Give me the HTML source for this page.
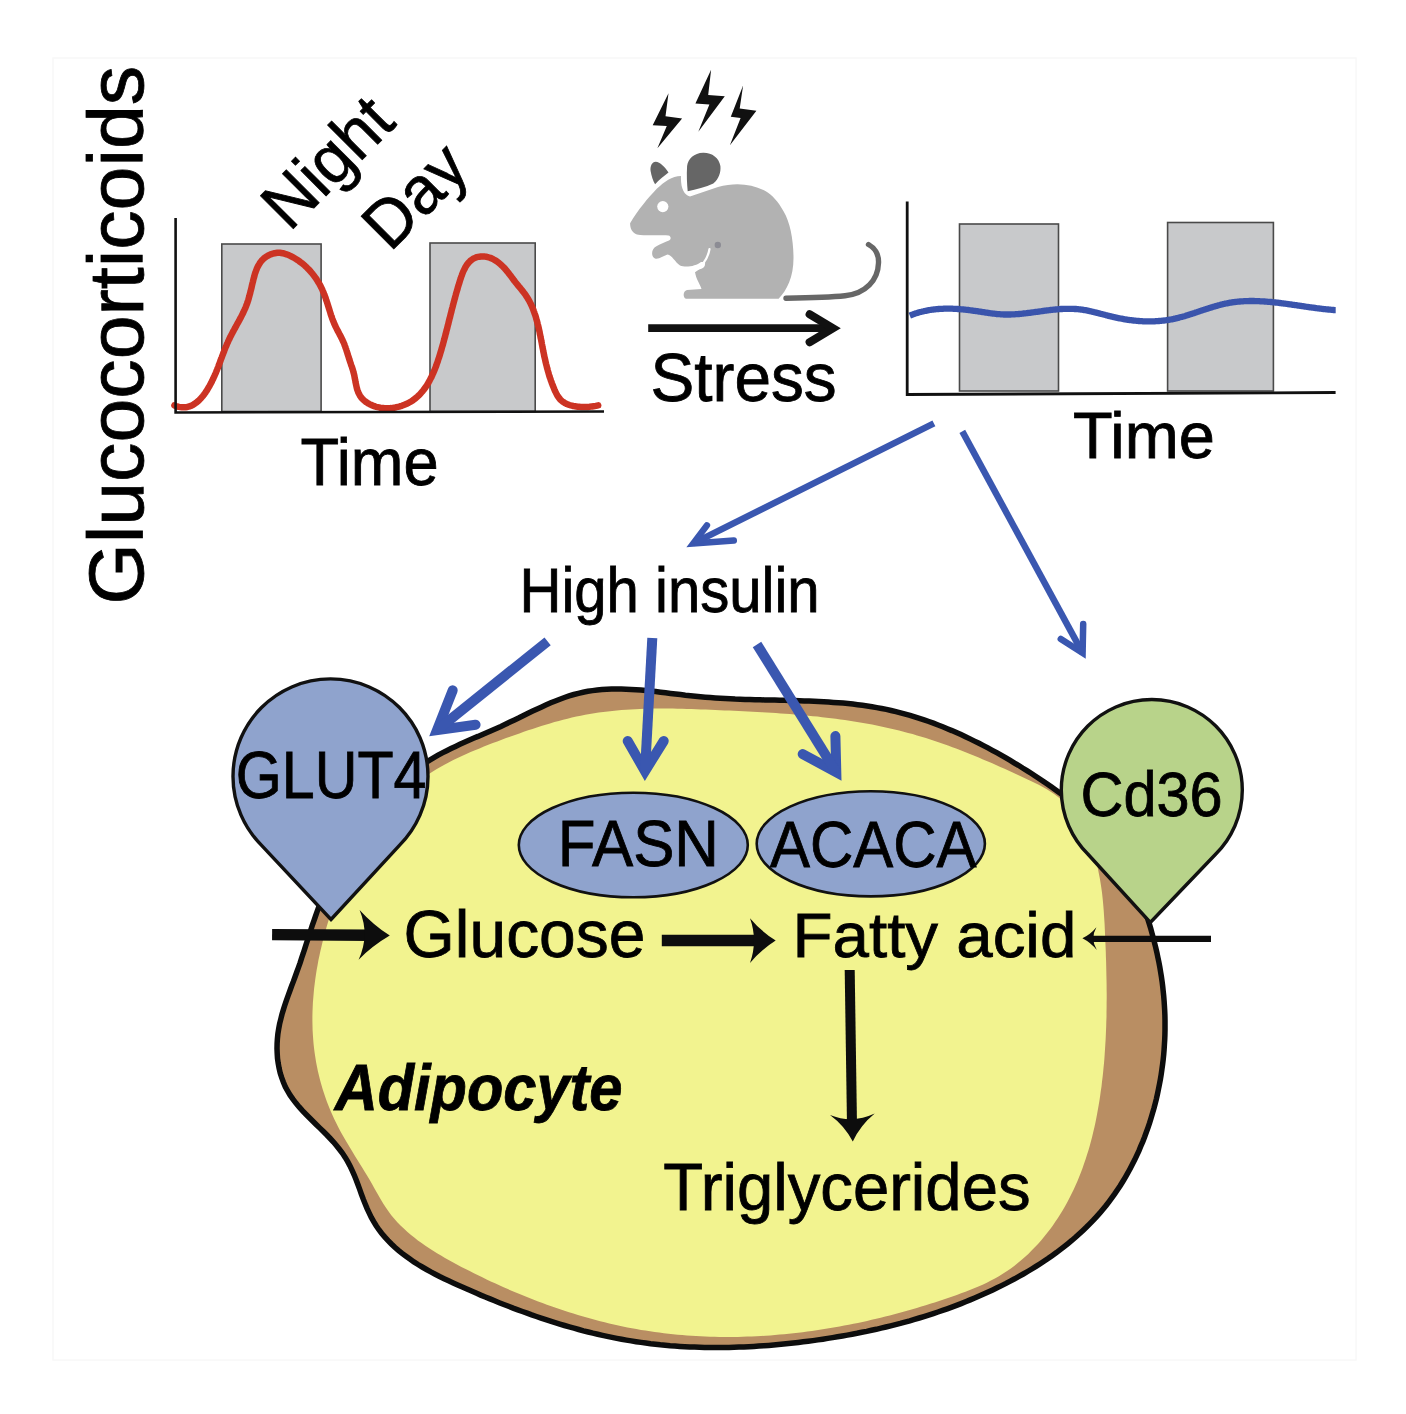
<!DOCTYPE html>
<html><head><meta charset="utf-8"><style>
html,body{margin:0;padding:0;background:#fff;}
svg{display:block;}
</style></head><body>
<svg width="1406" height="1414" viewBox="0 0 1406 1414">
<rect x="53" y="58" width="1303" height="1302" fill="none" stroke="#f8f8f8" stroke-width="1.5"/>
<rect x="221.8" y="244" width="99.3" height="167.5" fill="#c8c9cb" stroke="#4a4a4a" stroke-width="1.6"/>
<rect x="430" y="243" width="105.2" height="168.5" fill="#c8c9cb" stroke="#4a4a4a" stroke-width="1.6"/>
<path d="M174.4,405.4 L175.9,406.0 L177.4,406.5 L178.9,406.9 L180.3,407.1 L181.8,407.3 L183.1,407.3 L184.5,407.3 L185.8,407.2 L187.1,407.0 L188.3,406.7 L189.5,406.3 L190.7,405.9 L191.9,405.4 L193.0,404.8 L194.1,404.2 L195.2,403.4 L196.2,402.7 L197.2,401.9 L198.2,401.0 L199.2,400.1 L200.1,399.1 L201.1,398.2 L201.9,397.1 L202.8,396.1 L203.7,395.0 L204.5,393.9 L205.3,392.8 L206.0,391.6 L206.8,390.5 L207.5,389.3 L208.2,388.1 L208.9,386.9 L209.6,385.8 L210.2,384.6 L210.9,383.4 L211.5,382.2 L212.1,381.0 L212.7,379.7 L213.3,378.5 L213.8,377.3 L214.4,376.1 L214.9,374.8 L215.5,373.6 L216.0,372.4 L216.5,371.1 L217.0,369.9 L217.5,368.6 L218.0,367.4 L218.5,366.1 L218.9,364.9 L219.4,363.6 L219.9,362.3 L220.4,361.1 L220.8,359.8 L221.3,358.6 L221.8,357.3 L222.2,356.1 L222.7,354.8 L223.2,353.5 L223.7,352.3 L224.2,351.0 L224.6,349.8 L225.1,348.5 L225.6,347.3 L226.2,346.1 L226.7,344.8 L227.2,343.6 L227.8,342.4 L228.3,341.1 L228.9,339.9 L229.5,338.7 L230.0,337.5 L230.6,336.3 L231.3,335.1 L231.9,333.9 L232.5,332.7 L233.1,331.5 L233.8,330.3 L234.4,329.2 L235.1,328.0 L235.7,326.8 L236.4,325.6 L237.0,324.4 L237.7,323.2 L238.3,322.1 L239.0,320.9 L239.6,319.7 L240.2,318.5 L240.9,317.3 L241.5,316.1 L242.1,314.9 L242.7,313.7 L243.3,312.5 L243.8,311.3 L244.4,310.1 L244.9,308.9 L245.5,307.7 L246.0,306.4 L246.4,305.2 L246.9,304.0 L247.4,302.7 L247.8,301.4 L248.2,300.2 L248.6,298.9 L248.9,297.6 L249.3,296.3 L249.6,295.0 L250.0,293.7 L250.3,292.4 L250.6,291.1 L251.0,289.8 L251.3,288.5 L251.6,287.2 L251.9,285.8 L252.2,284.5 L252.5,283.2 L252.9,281.8 L253.2,280.5 L253.5,279.1 L253.9,277.8 L254.3,276.4 L254.6,275.1 L255.0,273.7 L255.5,272.4 L255.9,271.1 L256.4,269.8 L256.9,268.5 L257.5,267.2 L258.1,266.0 L258.8,264.8 L259.5,263.7 L260.2,262.5 L261.0,261.5 L261.9,260.4 L262.8,259.5 L263.8,258.5 L264.9,257.7 L266.0,256.9 L267.1,256.1 L268.3,255.5 L269.5,254.9 L270.8,254.3 L272.1,253.9 L273.4,253.5 L274.7,253.2 L276.0,253.0 L277.4,252.8 L278.7,252.8 L280.0,252.8 L281.3,253.0 L282.7,253.2 L284.0,253.5 L285.2,253.9 L286.5,254.3 L287.8,254.8 L289.1,255.3 L290.3,255.9 L291.5,256.5 L292.7,257.1 L293.9,257.8 L295.1,258.5 L296.3,259.2 L297.4,259.9 L298.5,260.7 L299.6,261.5 L300.7,262.3 L301.8,263.1 L302.9,264.0 L303.9,264.8 L304.9,265.7 L305.9,266.7 L306.9,267.6 L307.8,268.6 L308.8,269.5 L309.7,270.5 L310.6,271.5 L311.5,272.6 L312.4,273.6 L313.2,274.7 L314.0,275.7 L314.8,276.8 L315.6,277.9 L316.4,279.0 L317.1,280.2 L317.8,281.3 L318.5,282.5 L319.2,283.6 L319.9,284.8 L320.5,286.0 L321.1,287.2 L321.7,288.4 L322.3,289.6 L322.8,290.9 L323.3,292.1 L323.8,293.3 L324.3,294.6 L324.8,295.8 L325.3,297.1 L325.7,298.3 L326.1,299.6 L326.5,300.9 L327.0,302.2 L327.4,303.4 L327.8,304.7 L328.2,306.0 L328.6,307.3 L329.0,308.6 L329.4,309.8 L329.8,311.1 L330.2,312.4 L330.6,313.7 L331.0,315.0 L331.4,316.2 L331.9,317.5 L332.3,318.8 L332.8,320.0 L333.3,321.3 L333.8,322.5 L334.3,323.8 L334.9,325.0 L335.4,326.2 L336.0,327.4 L336.6,328.6 L337.2,329.8 L337.8,331.0 L338.5,332.2 L339.1,333.4 L339.7,334.6 L340.4,335.8 L341.0,337.0 L341.6,338.2 L342.2,339.5 L342.8,340.7 L343.3,341.9 L343.9,343.1 L344.4,344.4 L344.8,345.6 L345.3,346.9 L345.7,348.1 L346.2,349.4 L346.6,350.7 L347.0,351.9 L347.4,353.2 L347.8,354.5 L348.2,355.8 L348.6,357.0 L349.0,358.3 L349.4,359.6 L349.8,360.8 L350.2,362.1 L350.7,363.4 L351.1,364.7 L351.5,365.9 L352.0,367.2 L352.4,368.5 L352.8,369.8 L353.2,371.1 L353.5,372.4 L353.9,373.8 L354.2,375.1 L354.5,376.5 L354.7,377.9 L355.0,379.3 L355.3,380.6 L355.5,382.0 L355.8,383.4 L356.1,384.7 L356.4,386.1 L356.7,387.4 L357.0,388.7 L357.4,390.0 L357.9,391.2 L358.3,392.5 L358.9,393.6 L359.5,394.8 L360.1,395.9 L360.8,396.9 L361.6,398.0 L362.5,398.9 L363.4,399.8 L364.4,400.7 L365.4,401.5 L366.5,402.3 L367.6,403.0 L368.7,403.7 L369.9,404.3 L371.1,404.9 L372.4,405.4 L373.6,405.9 L374.9,406.4 L376.3,406.8 L377.6,407.1 L378.9,407.4 L380.3,407.7 L381.6,407.9 L383.0,408.0 L384.4,408.2 L385.7,408.2 L387.1,408.3 L388.5,408.2 L389.8,408.2 L391.2,408.1 L392.6,407.9 L393.9,407.7 L395.3,407.5 L396.6,407.2 L397.9,406.9 L399.2,406.6 L400.5,406.2 L401.8,405.8 L403.1,405.3 L404.4,404.8 L405.6,404.3 L406.8,403.8 L408.0,403.2 L409.2,402.5 L410.3,401.9 L411.5,401.2 L412.6,400.5 L413.7,399.7 L414.7,398.9 L415.7,398.1 L416.7,397.3 L417.7,396.4 L418.6,395.5 L419.6,394.6 L420.5,393.6 L421.3,392.7 L422.2,391.7 L423.0,390.7 L423.8,389.6 L424.6,388.6 L425.4,387.5 L426.1,386.4 L426.9,385.3 L427.6,384.1 L428.3,383.0 L428.9,381.8 L429.6,380.6 L430.2,379.4 L430.8,378.2 L431.5,377.0 L432.0,375.7 L432.6,374.5 L433.2,373.2 L433.7,372.0 L434.3,370.7 L434.8,369.4 L435.3,368.1 L435.8,366.8 L436.3,365.5 L436.7,364.2 L437.2,362.9 L437.7,361.6 L438.1,360.2 L438.5,358.9 L439.0,357.6 L439.4,356.3 L439.8,355.0 L440.2,353.6 L440.6,352.3 L441.0,351.0 L441.4,349.7 L441.7,348.4 L442.1,347.1 L442.5,345.8 L442.9,344.5 L443.2,343.2 L443.6,341.9 L443.9,340.6 L444.3,339.3 L444.6,338.0 L445.0,336.7 L445.3,335.4 L445.6,334.1 L446.0,332.9 L446.3,331.6 L446.6,330.3 L447.0,329.0 L447.3,327.7 L447.6,326.5 L447.9,325.2 L448.3,323.9 L448.6,322.6 L448.9,321.3 L449.2,320.1 L449.5,318.8 L449.9,317.5 L450.2,316.2 L450.5,315.0 L450.8,313.7 L451.2,312.4 L451.5,311.1 L451.8,309.8 L452.1,308.5 L452.5,307.3 L452.8,306.0 L453.1,304.7 L453.5,303.4 L453.8,302.1 L454.2,300.8 L454.5,299.5 L454.9,298.2 L455.2,296.9 L455.6,295.6 L455.9,294.3 L456.3,292.9 L456.7,291.6 L457.1,290.3 L457.5,289.0 L457.8,287.7 L458.2,286.3 L458.6,285.0 L459.1,283.6 L459.5,282.3 L459.9,280.9 L460.3,279.6 L460.8,278.2 L461.2,276.9 L461.7,275.6 L462.2,274.2 L462.7,272.9 L463.2,271.6 L463.8,270.4 L464.4,269.2 L465.0,268.0 L465.6,266.8 L466.3,265.7 L467.0,264.6 L467.8,263.6 L468.6,262.6 L469.5,261.7 L470.3,260.9 L471.3,260.1 L472.3,259.4 L473.3,258.7 L474.5,258.1 L475.6,257.6 L476.8,257.2 L478.1,256.9 L479.5,256.7 L480.8,256.5 L482.2,256.5 L483.6,256.5 L485.0,256.6 L486.3,256.8 L487.7,257.1 L489.0,257.5 L490.3,257.9 L491.6,258.4 L492.9,259.0 L494.1,259.7 L495.3,260.4 L496.5,261.1 L497.6,261.9 L498.7,262.8 L499.8,263.7 L500.8,264.6 L501.8,265.5 L502.8,266.5 L503.7,267.4 L504.7,268.4 L505.5,269.4 L506.4,270.5 L507.3,271.5 L508.1,272.5 L508.9,273.6 L509.8,274.7 L510.6,275.8 L511.4,276.8 L512.2,277.9 L513.0,279.0 L513.8,280.1 L514.6,281.1 L515.4,282.2 L516.3,283.3 L517.1,284.3 L518.0,285.4 L518.8,286.4 L519.7,287.4 L520.6,288.5 L521.4,289.5 L522.3,290.6 L523.1,291.6 L523.9,292.7 L524.7,293.7 L525.5,294.8 L526.2,295.9 L526.9,297.0 L527.6,298.1 L528.3,299.3 L529.0,300.4 L529.6,301.6 L530.2,302.8 L530.8,303.9 L531.3,305.1 L531.9,306.3 L532.4,307.6 L532.9,308.8 L533.4,310.0 L533.8,311.3 L534.3,312.5 L534.7,313.8 L535.2,315.0 L535.6,316.3 L536.0,317.6 L536.3,318.9 L536.7,320.2 L537.1,321.5 L537.4,322.8 L537.7,324.1 L538.1,325.4 L538.4,326.7 L538.7,328.0 L539.0,329.4 L539.3,330.7 L539.6,332.0 L539.8,333.4 L540.1,334.7 L540.4,336.1 L540.6,337.4 L540.9,338.7 L541.2,340.1 L541.4,341.4 L541.7,342.8 L541.9,344.1 L542.2,345.5 L542.4,346.8 L542.7,348.2 L543.0,349.5 L543.2,350.8 L543.5,352.2 L543.8,353.5 L544.0,354.8 L544.3,356.2 L544.6,357.5 L544.9,358.8 L545.2,360.1 L545.5,361.5 L545.8,362.8 L546.1,364.1 L546.5,365.4 L546.8,366.7 L547.1,368.0 L547.5,369.3 L547.8,370.6 L548.2,371.9 L548.6,373.2 L548.9,374.4 L549.3,375.7 L549.7,377.0 L550.2,378.3 L550.6,379.5 L551.0,380.8 L551.5,382.0 L551.9,383.3 L552.4,384.5 L552.9,385.8 L553.4,387.0 L553.9,388.2 L554.4,389.5 L554.9,390.7 L555.5,391.9 L556.1,393.1 L556.7,394.3 L557.3,395.4 L558.0,396.5 L558.8,397.6 L559.6,398.6 L560.4,399.6 L561.3,400.5 L562.3,401.3 L563.4,402.1 L564.5,402.8 L565.6,403.4 L566.8,404.0 L568.1,404.5 L569.4,405.0 L570.8,405.4 L572.1,405.7 L573.5,406.1 L574.9,406.3 L576.4,406.5 L577.8,406.7 L579.3,406.8 L580.8,406.9 L582.3,407.0 L583.7,407.0 L585.2,407.0 L586.6,406.9 L588.0,406.9 L589.4,406.8 L590.8,406.6 L592.2,406.5 L593.5,406.3 L594.7,406.1 L595.9,405.9 L597.1,405.6 L598.2,405.4" fill="none" stroke="#cc3323" stroke-width="6.5" stroke-linecap="round" stroke-linejoin="round"/>
<path d="M175.6,217.9 L175.6,412.5 L604,411.5" fill="none" stroke="#111" stroke-width="2.6"/>
<rect x="959.5" y="224" width="99" height="167" fill="#c8c9cb" stroke="#4a4a4a" stroke-width="1.6"/>
<rect x="1167.6" y="222.5" width="105.8" height="168.5" fill="#c8c9cb" stroke="#4a4a4a" stroke-width="1.6"/>
<path d="M909.8,315.6 L910.8,315.2 L911.9,314.8 L912.9,314.4 L914.0,314.0 L915.1,313.6 L916.1,313.3 L917.2,313.0 L918.2,312.6 L919.3,312.3 L920.4,312.0 L921.4,311.8 L922.5,311.5 L923.5,311.3 L924.6,311.0 L925.7,310.8 L926.7,310.6 L927.8,310.4 L928.9,310.2 L929.9,310.0 L931.0,309.8 L932.1,309.7 L933.1,309.6 L934.2,309.4 L935.3,309.3 L936.3,309.2 L937.4,309.1 L938.5,309.0 L939.6,308.9 L940.6,308.9 L941.7,308.8 L942.8,308.8 L943.8,308.7 L944.9,308.7 L946.0,308.7 L947.1,308.7 L948.1,308.7 L949.2,308.7 L950.3,308.7 L951.4,308.7 L952.4,308.7 L953.5,308.8 L954.6,308.8 L955.7,308.9 L956.7,308.9 L957.8,309.0 L958.9,309.1 L960.0,309.2 L961.0,309.3 L962.1,309.3 L963.2,309.4 L964.3,309.6 L965.3,309.7 L966.4,309.8 L967.5,309.9 L968.6,310.0 L969.6,310.2 L970.7,310.3 L971.8,310.5 L972.9,310.6 L973.9,310.8 L975.0,310.9 L976.1,311.1 L977.2,311.2 L978.2,311.4 L979.3,311.6 L980.4,311.7 L981.4,311.9 L982.5,312.1 L983.6,312.2 L984.7,312.4 L985.7,312.6 L986.8,312.7 L987.9,312.9 L988.9,313.0 L990.0,313.2 L991.1,313.3 L992.2,313.5 L993.2,313.6 L994.3,313.7 L995.4,313.8 L996.4,314.0 L997.5,314.1 L998.6,314.1 L999.7,314.2 L1000.7,314.3 L1001.8,314.4 L1002.9,314.4 L1003.9,314.5 L1005.0,314.5 L1006.1,314.5 L1007.2,314.5 L1008.2,314.5 L1009.3,314.5 L1010.4,314.5 L1011.5,314.4 L1012.5,314.4 L1013.6,314.3 L1014.7,314.3 L1015.8,314.2 L1016.8,314.1 L1017.9,314.1 L1019.0,314.0 L1020.1,313.9 L1021.1,313.8 L1022.2,313.7 L1023.3,313.5 L1024.4,313.4 L1025.4,313.3 L1026.5,313.2 L1027.6,313.0 L1028.7,312.9 L1029.8,312.8 L1030.8,312.6 L1031.9,312.5 L1033.0,312.3 L1034.1,312.2 L1035.1,312.0 L1036.2,311.9 L1037.3,311.8 L1038.4,311.6 L1039.4,311.5 L1040.5,311.3 L1041.6,311.2 L1042.7,311.0 L1043.7,310.9 L1044.8,310.7 L1045.9,310.6 L1047.0,310.4 L1048.0,310.3 L1049.1,310.2 L1050.2,310.0 L1051.3,309.9 L1052.3,309.8 L1053.4,309.7 L1054.5,309.6 L1055.6,309.5 L1056.6,309.4 L1057.7,309.3 L1058.8,309.2 L1059.9,309.1 L1060.9,309.0 L1062.0,309.0 L1063.1,308.9 L1064.1,308.9 L1065.2,308.8 L1066.3,308.8 L1067.4,308.8 L1068.4,308.8 L1069.5,308.8 L1070.6,308.8 L1071.6,308.8 L1072.7,308.9 L1073.8,308.9 L1074.8,309.0 L1075.9,309.0 L1077.0,309.1 L1078.0,309.2 L1079.1,309.3 L1080.2,309.4 L1081.2,309.6 L1082.3,309.7 L1083.3,309.9 L1084.4,310.1 L1085.5,310.2 L1086.5,310.4 L1087.6,310.6 L1088.6,310.9 L1089.7,311.1 L1090.8,311.3 L1091.8,311.6 L1092.9,311.8 L1093.9,312.1 L1095.0,312.3 L1096.1,312.6 L1097.1,312.9 L1098.2,313.1 L1099.2,313.4 L1100.3,313.7 L1101.4,314.0 L1102.4,314.2 L1103.5,314.5 L1104.6,314.8 L1105.6,315.1 L1106.7,315.3 L1107.7,315.6 L1108.8,315.9 L1109.9,316.2 L1110.9,316.4 L1112.0,316.7 L1113.1,316.9 L1114.1,317.2 L1115.2,317.4 L1116.3,317.7 L1117.3,317.9 L1118.4,318.1 L1119.5,318.3 L1120.5,318.5 L1121.6,318.7 L1122.7,318.9 L1123.7,319.1 L1124.8,319.3 L1125.9,319.5 L1126.9,319.6 L1128.0,319.8 L1129.1,320.0 L1130.2,320.1 L1131.2,320.2 L1132.3,320.4 L1133.4,320.5 L1134.4,320.6 L1135.5,320.7 L1136.6,320.8 L1137.7,320.9 L1138.7,321.0 L1139.8,321.1 L1140.9,321.2 L1141.9,321.2 L1143.0,321.3 L1144.1,321.3 L1145.2,321.4 L1146.2,321.4 L1147.3,321.4 L1148.4,321.4 L1149.4,321.4 L1150.5,321.4 L1151.6,321.4 L1152.6,321.4 L1153.7,321.3 L1154.8,321.3 L1155.8,321.2 L1156.9,321.2 L1158.0,321.1 L1159.0,321.0 L1160.1,320.9 L1161.2,320.8 L1162.2,320.7 L1163.3,320.6 L1164.3,320.5 L1165.4,320.3 L1166.4,320.2 L1167.5,320.0 L1168.6,319.9 L1169.6,319.7 L1170.7,319.5 L1171.7,319.3 L1172.8,319.1 L1173.8,318.9 L1174.9,318.6 L1175.9,318.4 L1177.0,318.1 L1178.0,317.9 L1179.1,317.6 L1180.1,317.3 L1181.2,317.0 L1182.2,316.8 L1183.2,316.5 L1184.3,316.2 L1185.3,315.9 L1186.4,315.5 L1187.4,315.2 L1188.5,314.9 L1189.5,314.6 L1190.5,314.2 L1191.6,313.9 L1192.6,313.6 L1193.7,313.2 L1194.7,312.9 L1195.7,312.5 L1196.8,312.2 L1197.8,311.8 L1198.8,311.5 L1199.9,311.1 L1200.9,310.8 L1202.0,310.4 L1203.0,310.1 L1204.0,309.8 L1205.1,309.4 L1206.1,309.1 L1207.2,308.7 L1208.2,308.4 L1209.2,308.1 L1210.3,307.7 L1211.3,307.4 L1212.4,307.1 L1213.4,306.8 L1214.5,306.5 L1215.5,306.1 L1216.5,305.9 L1217.6,305.6 L1218.6,305.3 L1219.7,305.0 L1220.7,304.7 L1221.8,304.5 L1222.8,304.2 L1223.9,304.0 L1224.9,303.7 L1226.0,303.5 L1227.1,303.3 L1228.1,303.1 L1229.2,302.9 L1230.2,302.7 L1231.3,302.5 L1232.4,302.4 L1233.4,302.2 L1234.5,302.1 L1235.5,301.9 L1236.6,301.8 L1237.7,301.7 L1238.7,301.6 L1239.8,301.5 L1240.9,301.4 L1242.0,301.4 L1243.0,301.3 L1244.1,301.2 L1245.2,301.2 L1246.2,301.1 L1247.3,301.1 L1248.4,301.1 L1249.5,301.0 L1250.6,301.0 L1251.6,301.0 L1252.7,301.0 L1253.8,301.0 L1254.9,301.1 L1255.9,301.1 L1257.0,301.1 L1258.1,301.2 L1259.2,301.2 L1260.3,301.3 L1261.4,301.3 L1262.4,301.4 L1263.5,301.4 L1264.6,301.5 L1265.7,301.6 L1266.8,301.7 L1267.9,301.8 L1269.0,301.8 L1270.0,301.9 L1271.1,302.0 L1272.2,302.1 L1273.3,302.3 L1274.4,302.4 L1275.5,302.5 L1276.6,302.6 L1277.6,302.7 L1278.7,302.9 L1279.8,303.0 L1280.9,303.1 L1282.0,303.3 L1283.1,303.4 L1284.2,303.6 L1285.3,303.7 L1286.3,303.8 L1287.4,304.0 L1288.5,304.1 L1289.6,304.3 L1290.7,304.4 L1291.8,304.6 L1292.9,304.8 L1293.9,304.9 L1295.0,305.1 L1296.1,305.2 L1297.2,305.4 L1298.3,305.6 L1299.3,305.7 L1300.4,305.9 L1301.5,306.0 L1302.6,306.2 L1303.7,306.4 L1304.8,306.5 L1305.8,306.7 L1306.9,306.8 L1308.0,307.0 L1309.1,307.1 L1310.1,307.3 L1311.2,307.4 L1312.3,307.6 L1313.4,307.7 L1314.4,307.9 L1315.5,308.0 L1316.6,308.2 L1317.6,308.3 L1318.7,308.4 L1319.8,308.6 L1320.8,308.7 L1321.9,308.8 L1323.0,309.0 L1324.0,309.1 L1325.1,309.2 L1326.2,309.3 L1327.2,309.4 L1328.3,309.5 L1329.3,309.6 L1330.4,309.7 L1331.4,309.8 L1332.5,309.9 L1333.6,310.0 L1334.6,310.1 L1335.7,310.1" fill="none" stroke="#3a54ac" stroke-width="6.3" stroke-linecap="butt" stroke-linejoin="round"/>
<path d="M907.2,201.5 L907.2,394.5 L1335.6,392.5" fill="none" stroke="#111" stroke-width="2.8"/>
<g fill="#b2b2b2">
<path d="M630.1,223.2 C630,228 632,233 637,234.5 C645,236 660,235 668.5,235.4 C671,236 671.5,239 669,240.5 C665,242 660,244 656,246.5 C651,249 651,257 655,258.5 C659,259.5 663,256 667.5,254.5 C672,255 675,262 680,265.5 C686,268 696,266 701,262 L705,262 C706,270 699,268 695,272 C696,279 700,284 701.5,289 L687,290 C683,291 682.5,297 686,298.8 L778.6,298.8 C787,290 793.5,277 793.5,258 C793.5,240 790,222 783.8,211.7 C778,201 772,195 765.8,191.2 C752,184 736,182 718,187 L690,196.5 C684,195 680.5,188 681,176 C672,176 664,182 657,188.6 C648,198 638,210 630.1,223.2 Z"/>
</g>
<path d="M709.5,249 C708,258 702,266 695.5,270.5" fill="none" stroke="#fff" stroke-width="2.2" stroke-linecap="round"/>
<circle cx="662.8" cy="206.6" r="5.6" fill="#fff"/>
<circle cx="717.8" cy="245" r="3.2" fill="#8c8c94"/>
<path d="M655.7,161.8 C652,162 650,166 650.6,171 C651.5,176 653,181 655.1,184.2 C659,180 664,176 668.5,172.6 C665,167 660,162 655.7,161.8 Z" fill="#666"/>
<path d="M703.1,152.8 C694,153 688,159 687.1,166 C686.5,175 687,184 687.7,191.2 C696,189.5 706,187 713.3,183.5 C719,179 721,172 720.4,166 C719,158 712,152.6 703.1,152.8 Z" fill="#666"/>
<path d="M786,298.2 C810,297.8 830,297.3 845,295.8 C866,293.5 878,280 878.5,263 C879,254 874,247.5 868.5,244.5" fill="none" stroke="#676767" stroke-width="5.4" stroke-linecap="round"/>
<path d="M668.5,93.3 L665.5,116.3 L682.1,118.5 L657.4,148.3 L666.8,126.1 L652.7,125.3 Z" fill="#111"/>
<path d="M711.1,69.8 L708.2,95.0 L724.8,96.3 L698.3,131.7 L709.4,104.4 L695.4,103.5 Z" fill="#111"/>
<path d="M743.1,85.6 L739.7,108.6 L756.4,110.8 L729.9,145.3 L740.6,118.0 L730.8,116.8 Z" fill="#111"/>
<line x1="648.2" y1="328.2" x2="830.0" y2="328.2" stroke="#111" stroke-width="7.7"/>
<path d="M809.6,314.3 L833.0,328.3 L809.6,342.2" fill="none" stroke="#111" stroke-width="8" stroke-linecap="round" stroke-linejoin="miter" stroke-miterlimit="10"/>
<path d="M429.7,760.1 L433.9,757.6 L438.1,755.2 L442.3,752.9 L446.7,750.7 L451.0,748.5 L455.5,746.4 L459.9,744.3 L464.4,742.3 L468.9,740.3 L473.4,738.3 L478.0,736.4 L482.5,734.4 L487.1,732.4 L491.7,730.4 L496.3,728.4 L500.9,726.4 L505.4,724.3 L510.0,722.1 L514.5,720.0 L519.1,717.8 L523.6,715.5 L528.1,713.3 L532.7,711.1 L537.2,709.0 L541.7,706.9 L546.3,704.8 L550.8,702.8 L555.4,701.0 L559.9,699.2 L564.5,697.5 L569.1,695.9 L573.8,694.5 L578.4,693.3 L583.1,692.2 L587.8,691.3 L592.5,690.6 L597.3,690.0 L602.0,689.6 L606.8,689.3 L611.6,689.1 L616.5,689.0 L621.3,689.1 L626.2,689.2 L631.1,689.4 L636.0,689.7 L640.9,690.1 L645.8,690.6 L650.7,691.1 L655.7,691.6 L660.6,692.2 L665.6,692.8 L670.5,693.4 L675.5,694.0 L680.5,694.6 L685.4,695.2 L690.4,695.7 L695.4,696.3 L700.4,696.8 L705.3,697.2 L710.3,697.6 L715.3,698.0 L720.3,698.3 L725.2,698.6 L730.2,698.8 L735.1,699.1 L740.1,699.2 L745.1,699.4 L750.0,699.6 L755.0,699.7 L759.9,699.8 L764.8,699.9 L769.8,700.0 L774.7,700.1 L779.6,700.2 L784.6,700.3 L789.5,700.5 L794.4,700.6 L799.3,700.7 L804.2,700.9 L809.1,701.1 L814.0,701.3 L818.8,701.5 L823.7,701.7 L828.6,702.0 L833.4,702.4 L838.3,702.7 L843.1,703.1 L848.0,703.6 L852.8,704.1 L857.6,704.7 L862.4,705.3 L867.2,706.0 L872.0,706.8 L876.8,707.6 L881.6,708.5 L886.4,709.4 L891.1,710.5 L895.9,711.6 L900.6,712.8 L905.3,714.1 L910.0,715.4 L914.7,716.9 L919.4,718.3 L924.1,719.9 L928.8,721.5 L933.4,723.2 L938.1,725.0 L942.7,726.8 L947.3,728.7 L951.9,730.6 L956.4,732.6 L961.0,734.6 L965.5,736.7 L970.0,738.9 L974.5,741.1 L979.0,743.3 L983.5,745.6 L987.9,747.9 L992.3,750.3 L996.7,752.7 L1001.1,755.2 L1005.5,757.7 L1009.8,760.2 L1014.1,762.8 L1018.4,765.3 L1022.6,768.0 L1026.9,770.6 L1031.1,773.3 L1035.2,776.0 L1039.4,778.7 L1043.5,781.5 L1047.6,784.2 L1051.6,787.0 L1055.7,789.9 L1059.6,792.7 L1063.6,795.7 L1067.4,798.6 L1071.3,801.6 L1075.0,804.7 L1078.7,807.8 L1082.4,811.0 L1085.9,814.3 L1089.4,817.6 L1092.8,821.0 L1096.2,824.5 L1099.4,828.0 L1102.6,831.7 L1105.7,835.4 L1108.7,839.3 L1111.6,843.2 L1114.3,847.2 L1117.1,851.3 L1119.7,855.4 L1122.2,859.7 L1124.6,864.0 L1127.0,868.4 L1129.3,872.8 L1131.5,877.3 L1133.6,881.8 L1135.6,886.4 L1137.6,891.0 L1139.5,895.7 L1141.3,900.3 L1143.0,905.1 L1144.7,909.8 L1146.3,914.5 L1147.9,919.3 L1149.4,924.1 L1150.8,928.8 L1152.1,933.6 L1153.4,938.4 L1154.6,943.2 L1155.8,947.9 L1156.9,952.7 L1157.9,957.5 L1158.9,962.3 L1159.8,967.1 L1160.6,971.9 L1161.4,976.7 L1162.1,981.5 L1162.7,986.4 L1163.2,991.2 L1163.7,996.0 L1164.1,1000.9 L1164.4,1005.7 L1164.7,1010.6 L1164.9,1015.4 L1165.0,1020.3 L1165.0,1025.2 L1165.0,1030.0 L1164.9,1034.9 L1164.7,1039.8 L1164.4,1044.7 L1164.1,1049.7 L1163.7,1054.6 L1163.2,1059.5 L1162.6,1064.4 L1161.9,1069.4 L1161.2,1074.3 L1160.4,1079.2 L1159.5,1084.1 L1158.5,1089.0 L1157.5,1093.9 L1156.4,1098.8 L1155.2,1103.6 L1153.9,1108.5 L1152.5,1113.3 L1151.1,1118.1 L1149.6,1122.9 L1148.0,1127.6 L1146.3,1132.3 L1144.6,1137.0 L1142.8,1141.6 L1140.8,1146.2 L1138.9,1150.8 L1136.8,1155.3 L1134.7,1159.8 L1132.4,1164.3 L1130.1,1168.7 L1127.8,1173.0 L1125.3,1177.3 L1122.8,1181.5 L1120.2,1185.7 L1117.5,1189.8 L1114.7,1193.9 L1111.8,1197.9 L1108.9,1201.8 L1105.9,1205.7 L1102.8,1209.4 L1099.7,1213.2 L1096.4,1216.8 L1093.1,1220.4 L1089.7,1223.9 L1086.3,1227.3 L1082.7,1230.7 L1079.1,1234.0 L1075.5,1237.3 L1071.8,1240.5 L1068.0,1243.6 L1064.2,1246.6 L1060.3,1249.6 L1056.4,1252.6 L1052.4,1255.4 L1048.4,1258.3 L1044.3,1261.0 L1040.2,1263.7 L1036.0,1266.4 L1031.8,1269.0 L1027.6,1271.5 L1023.3,1274.0 L1019.0,1276.4 L1014.7,1278.8 L1010.3,1281.1 L1006.0,1283.4 L1001.6,1285.6 L997.1,1287.8 L992.7,1289.9 L988.2,1292.0 L983.7,1294.1 L979.2,1296.1 L974.7,1298.0 L970.2,1299.9 L965.6,1301.8 L961.1,1303.6 L956.5,1305.4 L951.9,1307.1 L947.2,1308.8 L942.6,1310.4 L938.0,1312.0 L933.3,1313.6 L928.6,1315.1 L923.9,1316.6 L919.2,1318.0 L914.5,1319.4 L909.8,1320.8 L905.0,1322.1 L900.3,1323.4 L895.5,1324.6 L890.7,1325.8 L885.9,1327.0 L881.1,1328.1 L876.3,1329.3 L871.5,1330.3 L866.7,1331.4 L861.8,1332.3 L857.0,1333.3 L852.1,1334.2 L847.3,1335.1 L842.4,1336.0 L837.5,1336.8 L832.6,1337.6 L827.7,1338.4 L822.8,1339.2 L817.9,1339.9 L813.0,1340.6 L808.1,1341.2 L803.2,1341.8 L798.3,1342.4 L793.3,1343.0 L788.4,1343.5 L783.5,1344.0 L778.5,1344.5 L773.6,1345.0 L768.7,1345.4 L763.7,1345.7 L758.8,1346.1 L753.8,1346.4 L748.9,1346.7 L743.9,1346.9 L739.0,1347.1 L734.1,1347.2 L729.1,1347.4 L724.2,1347.5 L719.2,1347.5 L714.3,1347.5 L709.4,1347.5 L704.5,1347.4 L699.5,1347.3 L694.6,1347.1 L689.7,1346.9 L684.8,1346.7 L679.9,1346.4 L675.0,1346.0 L670.1,1345.7 L665.2,1345.2 L660.3,1344.8 L655.5,1344.2 L650.6,1343.7 L645.8,1343.1 L640.9,1342.4 L636.1,1341.7 L631.2,1340.9 L626.4,1340.1 L621.6,1339.3 L616.8,1338.4 L612.0,1337.4 L607.2,1336.4 L602.5,1335.4 L597.7,1334.3 L592.9,1333.2 L588.2,1332.0 L583.4,1330.8 L578.7,1329.5 L574.0,1328.2 L569.3,1326.9 L564.5,1325.5 L559.8,1324.1 L555.1,1322.7 L550.4,1321.2 L545.8,1319.7 L541.1,1318.1 L536.4,1316.5 L531.7,1314.9 L527.1,1313.2 L522.4,1311.5 L517.8,1309.8 L513.1,1308.1 L508.5,1306.3 L503.8,1304.5 L499.2,1302.7 L494.6,1300.8 L490.0,1298.9 L485.3,1297.0 L480.7,1295.1 L476.1,1293.1 L471.5,1291.1 L466.9,1289.1 L462.3,1287.1 L457.7,1285.0 L453.2,1282.9 L448.6,1280.8 L444.1,1278.7 L439.6,1276.5 L435.2,1274.2 L430.8,1271.9 L426.5,1269.5 L422.2,1267.0 L418.0,1264.5 L413.9,1261.9 L409.9,1259.1 L406.0,1256.3 L402.1,1253.4 L398.4,1250.4 L394.8,1247.3 L391.4,1244.0 L388.1,1240.6 L384.9,1237.1 L381.8,1233.5 L378.9,1229.7 L376.2,1225.7 L373.7,1221.6 L371.3,1217.4 L369.1,1212.9 L367.0,1208.4 L365.1,1203.7 L363.2,1199.0 L361.4,1194.2 L359.7,1189.4 L357.9,1184.5 L356.1,1179.8 L354.2,1175.0 L352.1,1170.4 L350.0,1165.9 L347.7,1161.6 L345.2,1157.4 L342.5,1153.3 L339.6,1149.5 L336.6,1145.7 L333.5,1142.0 L330.2,1138.5 L326.9,1135.0 L323.4,1131.5 L319.9,1128.1 L316.4,1124.7 L312.9,1121.2 L309.4,1117.7 L305.9,1114.2 L302.4,1110.6 L299.1,1106.9 L295.9,1103.1 L292.9,1099.2 L290.1,1095.2 L287.6,1091.0 L285.3,1086.7 L283.4,1082.2 L281.7,1077.7 L280.2,1073.0 L279.1,1068.2 L278.2,1063.3 L277.5,1058.4 L277.2,1053.5 L277.0,1048.5 L277.1,1043.6 L277.4,1038.6 L277.9,1033.7 L278.7,1028.8 L279.6,1023.9 L280.8,1019.1 L282.0,1014.3 L283.4,1009.6 L284.9,1004.8 L286.5,1000.1 L288.2,995.4 L289.9,990.7 L291.6,986.0 L293.4,981.4 L295.1,976.7 L296.8,972.0 L298.5,967.4 L300.1,962.8 L301.6,958.1 L303.2,953.5 L304.7,948.8 L306.2,944.2 L307.7,939.6 L309.2,935.0 L310.7,930.3 L312.2,925.7 L313.8,921.1 L315.4,916.5 L317.0,911.9 L318.7,907.3 L320.5,902.7 L322.3,898.1 L324.2,893.6 L326.2,889.0 L328.2,884.5 L330.3,879.9 L332.4,875.4 L334.6,871.0 L336.8,866.5 L339.2,862.1 L341.5,857.7 L344.0,853.3 L346.5,849.0 L349.1,844.7 L351.7,840.5 L354.4,836.3 L357.1,832.1 L360.0,828.0 L362.8,824.0 L365.8,820.0 L368.8,816.0 L371.9,812.1 L375.0,808.3 L378.2,804.5 L381.5,800.8 L384.8,797.2 L388.2,793.7 L391.6,790.2 L395.2,786.8 L398.7,783.5 L402.4,780.2 L406.1,777.1 L409.9,774.0 L413.7,771.1 L417.6,768.2 L421.6,765.4 L425.6,762.7 Z" fill="#b98e63" stroke="#0d0d0d" stroke-width="5.5"/>
<path d="M428.9,774.0 L432.8,771.5 L436.8,769.1 L440.8,766.7 L444.9,764.5 L449.1,762.2 L453.3,760.1 L457.6,758.0 L461.9,756.0 L466.3,754.0 L470.6,752.1 L475.0,750.2 L479.5,748.4 L483.9,746.6 L488.3,744.8 L492.8,743.1 L497.3,741.4 L501.7,739.8 L506.1,738.1 L510.6,736.5 L515.0,734.9 L519.4,733.4 L523.8,731.8 L528.1,730.3 L532.5,728.9 L536.9,727.4 L541.3,726.1 L545.6,724.7 L550.0,723.4 L554.4,722.1 L558.8,720.9 L563.1,719.8 L567.5,718.7 L571.9,717.6 L576.4,716.6 L580.8,715.7 L585.2,714.8 L589.7,714.0 L594.2,713.2 L598.7,712.5 L603.2,711.9 L607.8,711.4 L612.3,710.9 L616.9,710.4 L621.5,710.0 L626.1,709.7 L630.7,709.4 L635.4,709.2 L640.0,709.0 L644.7,708.8 L649.3,708.7 L654.0,708.6 L658.7,708.6 L663.4,708.6 L668.1,708.6 L672.8,708.6 L677.5,708.7 L682.2,708.8 L686.9,708.9 L691.6,709.1 L696.3,709.2 L701.0,709.4 L705.7,709.6 L710.4,709.8 L715.2,710.0 L719.9,710.2 L724.6,710.4 L729.2,710.6 L733.9,710.8 L738.6,711.0 L743.3,711.2 L748.0,711.5 L752.6,711.7 L757.3,712.0 L762.0,712.2 L766.6,712.5 L771.3,712.8 L775.9,713.1 L780.6,713.4 L785.2,713.8 L789.8,714.1 L794.4,714.5 L799.1,714.9 L803.7,715.3 L808.3,715.7 L812.9,716.2 L817.5,716.6 L822.1,717.2 L826.6,717.7 L831.2,718.2 L835.8,718.8 L840.4,719.4 L844.9,720.1 L849.5,720.8 L854.0,721.5 L858.6,722.2 L863.1,723.0 L867.6,723.8 L872.1,724.6 L876.7,725.5 L881.2,726.5 L885.7,727.4 L890.2,728.4 L894.7,729.5 L899.1,730.6 L903.6,731.7 L908.1,732.9 L912.6,734.1 L917.0,735.4 L921.5,736.7 L925.9,738.1 L930.3,739.5 L934.8,741.0 L939.2,742.5 L943.6,744.0 L948.0,745.6 L952.4,747.2 L956.8,748.8 L961.2,750.5 L965.6,752.2 L969.9,754.0 L974.3,755.7 L978.7,757.5 L983.0,759.4 L987.3,761.2 L991.7,763.1 L996.0,765.0 L1000.3,766.9 L1004.6,768.8 L1008.9,770.8 L1013.2,772.7 L1017.5,774.7 L1021.8,776.7 L1026.0,778.7 L1030.3,780.7 L1034.5,782.7 L1038.7,784.8 L1042.8,787.0 L1046.8,789.3 L1050.7,791.7 L1054.5,794.2 L1058.1,796.9 L1061.6,799.8 L1064.9,802.9 L1068.0,806.1 L1071.0,809.5 L1073.8,813.1 L1076.5,816.8 L1079.0,820.6 L1081.4,824.6 L1083.6,828.7 L1085.7,832.8 L1087.7,837.1 L1089.5,841.4 L1091.2,845.8 L1092.8,850.3 L1094.2,854.8 L1095.5,859.4 L1096.8,864.0 L1097.9,868.6 L1098.8,873.2 L1099.7,877.8 L1100.5,882.4 L1101.2,887.1 L1101.9,891.7 L1102.4,896.3 L1102.9,901.0 L1103.3,905.6 L1103.7,910.2 L1104.0,914.9 L1104.3,919.5 L1104.6,924.1 L1104.8,928.8 L1105.0,933.4 L1105.2,938.1 L1105.4,942.7 L1105.6,947.3 L1105.8,952.0 L1105.9,956.6 L1106.1,961.2 L1106.2,965.9 L1106.3,970.5 L1106.4,975.2 L1106.5,979.8 L1106.6,984.4 L1106.6,989.1 L1106.7,993.7 L1106.7,998.3 L1106.6,1003.0 L1106.6,1007.6 L1106.5,1012.3 L1106.5,1016.9 L1106.3,1021.5 L1106.2,1026.2 L1106.0,1030.8 L1105.8,1035.4 L1105.6,1040.1 L1105.3,1044.7 L1105.0,1049.3 L1104.7,1054.0 L1104.4,1058.6 L1104.0,1063.2 L1103.5,1067.9 L1103.1,1072.5 L1102.6,1077.1 L1102.0,1081.7 L1101.5,1086.4 L1100.8,1091.0 L1100.2,1095.6 L1099.5,1100.2 L1098.7,1104.9 L1097.9,1109.5 L1097.1,1114.1 L1096.2,1118.7 L1095.3,1123.2 L1094.3,1127.8 L1093.2,1132.3 L1092.1,1136.9 L1090.9,1141.4 L1089.7,1145.9 L1088.4,1150.4 L1087.0,1154.8 L1085.6,1159.2 L1084.1,1163.6 L1082.6,1168.0 L1080.9,1172.4 L1079.2,1176.7 L1077.5,1181.0 L1075.6,1185.2 L1073.7,1189.5 L1071.7,1193.6 L1069.6,1197.8 L1067.4,1201.9 L1065.2,1206.0 L1062.9,1210.0 L1060.4,1214.0 L1057.9,1217.9 L1055.3,1221.8 L1052.7,1225.7 L1049.9,1229.4 L1047.1,1233.1 L1044.1,1236.8 L1041.1,1240.4 L1038.0,1243.9 L1034.8,1247.3 L1031.6,1250.6 L1028.3,1253.9 L1024.9,1257.0 L1021.4,1260.1 L1017.8,1263.1 L1014.2,1265.9 L1010.5,1268.7 L1006.7,1271.3 L1002.8,1273.8 L998.9,1276.2 L994.9,1278.5 L990.9,1280.6 L986.8,1282.7 L982.6,1284.7 L978.4,1286.5 L974.1,1288.3 L969.8,1290.1 L965.5,1291.7 L961.1,1293.3 L956.8,1294.9 L952.4,1296.5 L948.0,1298.0 L943.5,1299.5 L939.1,1300.9 L934.7,1302.4 L930.2,1303.8 L925.8,1305.2 L921.3,1306.6 L916.8,1307.9 L912.4,1309.2 L907.9,1310.5 L903.4,1311.8 L898.9,1313.0 L894.3,1314.2 L889.8,1315.4 L885.3,1316.6 L880.7,1317.7 L876.2,1318.8 L871.6,1319.8 L867.1,1320.9 L862.5,1321.9 L857.9,1322.9 L853.4,1323.8 L848.8,1324.7 L844.2,1325.6 L839.6,1326.5 L835.0,1327.3 L830.4,1328.1 L825.8,1328.8 L821.2,1329.6 L816.6,1330.3 L811.9,1330.9 L807.3,1331.6 L802.7,1332.2 L798.1,1332.7 L793.4,1333.2 L788.8,1333.7 L784.2,1334.2 L779.5,1334.6 L774.9,1335.0 L770.3,1335.4 L765.6,1335.7 L761.0,1336.0 L756.4,1336.2 L751.7,1336.4 L747.1,1336.6 L742.4,1336.8 L737.8,1336.9 L733.2,1336.9 L728.5,1336.9 L723.9,1336.9 L719.3,1336.9 L714.6,1336.8 L710.0,1336.7 L705.4,1336.5 L700.7,1336.3 L696.1,1336.0 L691.5,1335.8 L686.9,1335.4 L682.3,1335.1 L677.7,1334.7 L673.1,1334.2 L668.5,1333.7 L663.9,1333.2 L659.3,1332.6 L654.7,1332.0 L650.1,1331.3 L645.6,1330.6 L641.0,1329.9 L636.4,1329.1 L631.9,1328.2 L627.4,1327.4 L622.8,1326.4 L618.3,1325.5 L613.8,1324.5 L609.2,1323.4 L604.7,1322.3 L600.2,1321.2 L595.7,1320.0 L591.3,1318.8 L586.8,1317.6 L582.3,1316.3 L577.9,1315.0 L573.4,1313.6 L569.0,1312.2 L564.5,1310.8 L560.1,1309.3 L555.7,1307.8 L551.3,1306.2 L546.9,1304.7 L542.5,1303.1 L538.1,1301.4 L533.8,1299.8 L529.4,1298.0 L525.1,1296.3 L520.8,1294.5 L516.4,1292.8 L512.1,1290.9 L507.8,1289.1 L503.6,1287.2 L499.3,1285.3 L495.0,1283.3 L490.8,1281.4 L486.6,1279.4 L482.3,1277.3 L478.1,1275.3 L473.9,1273.2 L469.7,1271.1 L465.6,1269.0 L461.4,1266.9 L457.3,1264.7 L453.2,1262.5 L449.1,1260.3 L445.0,1258.0 L441.0,1255.6 L437.0,1253.3 L433.1,1250.8 L429.2,1248.3 L425.4,1245.7 L421.6,1243.1 L417.9,1240.4 L414.3,1237.6 L410.7,1234.7 L407.2,1231.7 L403.8,1228.6 L400.5,1225.5 L397.3,1222.2 L394.3,1218.8 L391.3,1215.2 L388.6,1211.6 L386.0,1207.8 L383.5,1204.0 L381.1,1200.0 L378.8,1196.0 L376.5,1192.0 L374.2,1187.9 L371.9,1183.8 L369.6,1179.8 L367.2,1175.7 L364.7,1171.7 L362.3,1167.7 L359.8,1163.7 L357.3,1159.7 L354.8,1155.7 L352.3,1151.6 L349.9,1147.6 L347.5,1143.6 L345.1,1139.5 L342.8,1135.5 L340.5,1131.4 L338.3,1127.3 L336.2,1123.1 L334.2,1119.0 L332.3,1114.7 L330.4,1110.5 L328.7,1106.3 L327.0,1102.0 L325.5,1097.7 L324.0,1093.3 L322.6,1089.0 L321.3,1084.6 L320.1,1080.2 L319.0,1075.7 L317.9,1071.3 L317.0,1066.8 L316.1,1062.3 L315.4,1057.8 L314.7,1053.3 L314.1,1048.7 L313.6,1044.2 L313.2,1039.6 L312.9,1035.0 L312.6,1030.3 L312.5,1025.7 L312.4,1021.1 L312.4,1016.4 L312.5,1011.8 L312.7,1007.1 L312.9,1002.4 L313.3,997.7 L313.7,993.1 L314.1,988.4 L314.7,983.7 L315.3,979.0 L316.0,974.3 L316.7,969.7 L317.6,965.0 L318.4,960.3 L319.4,955.7 L320.4,951.1 L321.5,946.4 L322.6,941.8 L323.8,937.2 L325.0,932.6 L326.3,928.1 L327.6,923.5 L329.0,919.0 L330.5,914.5 L332.0,910.0 L333.5,905.5 L335.1,901.1 L336.8,896.7 L338.5,892.3 L340.2,888.0 L342.1,883.7 L343.9,879.4 L345.8,875.1 L347.8,870.9 L349.9,866.8 L351.9,862.6 L354.1,858.5 L356.3,854.5 L358.6,850.5 L360.9,846.5 L363.3,842.6 L365.7,838.8 L368.3,834.9 L370.8,831.2 L373.5,827.5 L376.2,823.8 L378.9,820.2 L381.8,816.7 L384.7,813.2 L387.7,809.8 L390.7,806.4 L393.8,803.1 L397.0,799.9 L400.2,796.7 L403.6,793.6 L407.0,790.6 L410.4,787.7 L414.0,784.8 L417.6,782.0 L421.3,779.2 L425.0,776.6 Z" fill="#f2f38f"/>
<path d="M331.0,919.5 L399.4,845.4 A97.5,97.5 0 1 0 261.6,845.4 Z" fill="#8fa3cd" stroke="#111" stroke-width="3.4" stroke-linejoin="miter"/>
<path d="M1150.3,922.5 L1215.8,854.0 A90.5,90.5 0 1 0 1087.8,854.0 Z" fill="#b8d38a" stroke="#111" stroke-width="3.4" stroke-linejoin="miter"/>
<ellipse cx="633.3" cy="845" rx="114.5" ry="52.3" fill="#8fa3cd" stroke="#111" stroke-width="2.6"/>
<ellipse cx="870.8" cy="843.8" rx="114.1" ry="52.6" fill="#8fa3cd" stroke="#111" stroke-width="2.6"/>
<line x1="272.1" y1="934.6" x2="370" y2="935.2" stroke="#0d0d0d" stroke-width="11.4"/>
<path d="M359.6,909.9 Q373.0,924.7 389.8,935.6 Q372.6,945.6 358.6,959.7 Q370,935 359.6,909.9 Z" fill="#0d0d0d"/>
<line x1="661.8" y1="940.4" x2="760" y2="940.4" stroke="#0d0d0d" stroke-width="11.5"/>
<path d="M750,918.2 Q761.1,931.4 775.7,940.6 Q761.1,949.8 750,963 Q758,940.5 750,918.2 Z" fill="#0d0d0d"/>
<line x1="1211" y1="938.8" x2="1092" y2="938.8" stroke="#0d0d0d" stroke-width="6.3"/>
<path d="M1096.4,927.2 Q1090.6,934.3 1082.4,938.2 Q1090.9,942.6 1096.8,950 Q1090,938.5 1096.4,927.2 Z" fill="#0d0d0d"/>
<line x1="849.7" y1="970" x2="852" y2="1125" stroke="#0d0d0d" stroke-width="10"/>
<path d="M830,1115 Q844.4,1125.6 852.8,1141.5 Q860.6,1125.1 874.7,1113.6 Q852.5,1124 830,1115 Z" fill="#0d0d0d"/>
<path d="M706.9,525.4 L693.3,543.4 L733.8,540.4" fill="none" stroke="#3a57b0" stroke-width="6.5" stroke-linecap="round" stroke-linejoin="miter" stroke-miterlimit="10"/><line x1="933.9" y1="423.3" x2="693.3" y2="543.4" stroke="#3a57b0" stroke-width="6.5" stroke-linecap="butt"/>
<path d="M1083.2,624.0 L1082.6,652.9 L1060.8,639.0" fill="none" stroke="#3a57b0" stroke-width="6.5" stroke-linecap="round" stroke-linejoin="miter" stroke-miterlimit="10"/><line x1="962.3" y1="431.4" x2="1082.6" y2="652.9" stroke="#3a57b0" stroke-width="6.5" stroke-linecap="butt"/>
<path d="M452.7,690.3 L437.0,730.1 L475.6,724.7" fill="none" stroke="#3a57b0" stroke-width="10" stroke-linecap="round" stroke-linejoin="miter" stroke-miterlimit="10"/><line x1="547.6" y1="641.3" x2="437.0" y2="730.1" stroke="#3a57b0" stroke-width="10" stroke-linecap="butt"/>
<path d="M627.7,741.0 L645.0,771.2 L663.7,741.0" fill="none" stroke="#3a57b0" stroke-width="10" stroke-linecap="round" stroke-linejoin="miter" stroke-miterlimit="10"/><line x1="652.3" y1="638.0" x2="645.0" y2="771.2" stroke="#3a57b0" stroke-width="10" stroke-linecap="butt"/>
<path d="M835.4,736.1 L836.3,772.2 L802.7,754.1" fill="none" stroke="#3a57b0" stroke-width="10" stroke-linecap="round" stroke-linejoin="miter" stroke-miterlimit="10"/><line x1="757.0" y1="644.5" x2="836.3" y2="772.2" stroke="#3a57b0" stroke-width="10" stroke-linecap="butt"/>
<g font-family="Liberation Sans, sans-serif" font-size="100">
<text transform="translate(142.80,604.54) rotate(-90) scale(0.7881,0.7795)" fill="#000" stroke="#000" stroke-width="1.02">Glucocorticoids</text>
<text transform="translate(300.54,484.50) scale(0.6321,0.6601)" font-weight="normal" font-style="normal" fill="#000" stroke="#000" stroke-width="1.24">Time</text>
<text transform="translate(650.51,401.10) scale(0.6571,0.6814)" font-weight="normal" font-style="normal" fill="#000" stroke="#000" stroke-width="1.20">Stress</text>
<text transform="translate(1073.00,457.90) scale(0.6491,0.6419)" font-weight="normal" font-style="normal" fill="#000" stroke="#000" stroke-width="1.24">Time</text>
<text transform="translate(519.45,611.50) scale(0.5809,0.6348)" font-weight="normal" font-style="normal" fill="#000" stroke="#000" stroke-width="1.32">High insulin</text>
<text transform="translate(235.84,798.30) scale(0.5917,0.6714)" font-weight="normal" font-style="normal" fill="#000" stroke="#000" stroke-width="1.27">GLUT4</text>
<text transform="translate(557.66,865.80) scale(0.6176,0.6486)" font-weight="normal" font-style="normal" fill="#000" stroke="#000" stroke-width="1.26">FASN</text>
<text transform="translate(770.00,867.40) scale(0.5997,0.6486)" font-weight="normal" font-style="normal" fill="#000" stroke="#000" stroke-width="1.28">ACACA</text>
<text transform="translate(1080.53,816.10) scale(0.5943,0.6334)" font-weight="normal" font-style="normal" fill="#000" stroke="#000" stroke-width="1.30">Cd36</text>
<text transform="translate(403.60,956.50) scale(0.6591,0.6685)" font-weight="normal" font-style="normal" fill="#000" stroke="#000" stroke-width="1.21">Glucose</text>
<text transform="translate(792.56,957.10) scale(0.6547,0.6348)" font-weight="normal" font-style="normal" fill="#000" stroke="#000" stroke-width="1.24">Fatty acid</text>
<text transform="translate(663.30,1210.00) scale(0.6522,0.6601)" font-weight="normal" font-style="normal" fill="#000" stroke="#000" stroke-width="1.22">Triglycerides</text>
<text transform="translate(334.70,1109.90) scale(0.5954,0.6433)" font-weight="bold" font-style="italic" fill="#000" stroke="#000" stroke-width="1.29">Adipocyte</text>
<text transform="translate(289.40,232.50) rotate(-45) scale(0.6560,0.6770)" fill="#000" stroke="#000" stroke-width="1.20">Night</text>
<text transform="translate(389.90,252.80) rotate(-45) scale(0.6510,0.6710)" fill="#000" stroke="#000" stroke-width="1.21">Day</text>
</g>
</svg>
</body></html>
